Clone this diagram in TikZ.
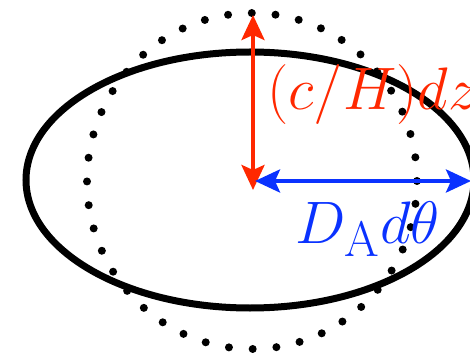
\documentclass[tikz,border=0pt]{standalone}
\usetikzlibrary{arrows.meta,positioning,calc}

\definecolor{zred}{RGB}{255,40,0}
\definecolor{dblue}{RGB}{10,50,255}

\begin{document}
\begin{tikzpicture}[
        x=1pt, y=1pt,
        outline/.style={draw=black, line width=7pt},
        dotring/.style={draw=black, line width=8pt, line cap=round,
            dash pattern=on 0pt off 23.8pt},
        arr_z/.style={{Stealth[length=25pt,width=23pt,inset=5pt]}-{Stealth[length=25pt,width=23pt,inset=5pt]},
            line width=4pt, draw=zred},
        arr_t/.style={{Stealth[length=25pt,width=23pt,inset=5pt]}-{Stealth[length=25pt,width=23pt,inset=5pt]},
            line width=4pt, draw=dblue},
        lbl/.style={inner sep=0pt, anchor=base west, font=\Huge, scale=2.41}
    ]
    \useasboundingbox (0,0) rectangle (470,356);

    % Shapes
    \draw[outline] (250,176) ellipse [x radius=224, y radius=128];
    \draw[dotring] (252,175) ellipse [x radius=165, y radius=168];

    % Arrow end points
    \coordinate (zlow) at (253,166);
    \coordinate (ztop) at (253,341);
    \coordinate (tleft) at (255,175);
    \coordinate (tright) at (471,175);

    % Arrows
    \draw[arr_z] (zlow) -- (ztop);
    \draw[arr_t] (tleft) -- (tright);

    % Labels
    \node[lbl, text=zred] (zlabel) at (267,246) {$(c/H)dz$};
    \node[lbl, text=dblue] (tlabel) at (295,113) {$D_{\mathrm{A}}d\theta$};
\end{tikzpicture}
\end{document}
